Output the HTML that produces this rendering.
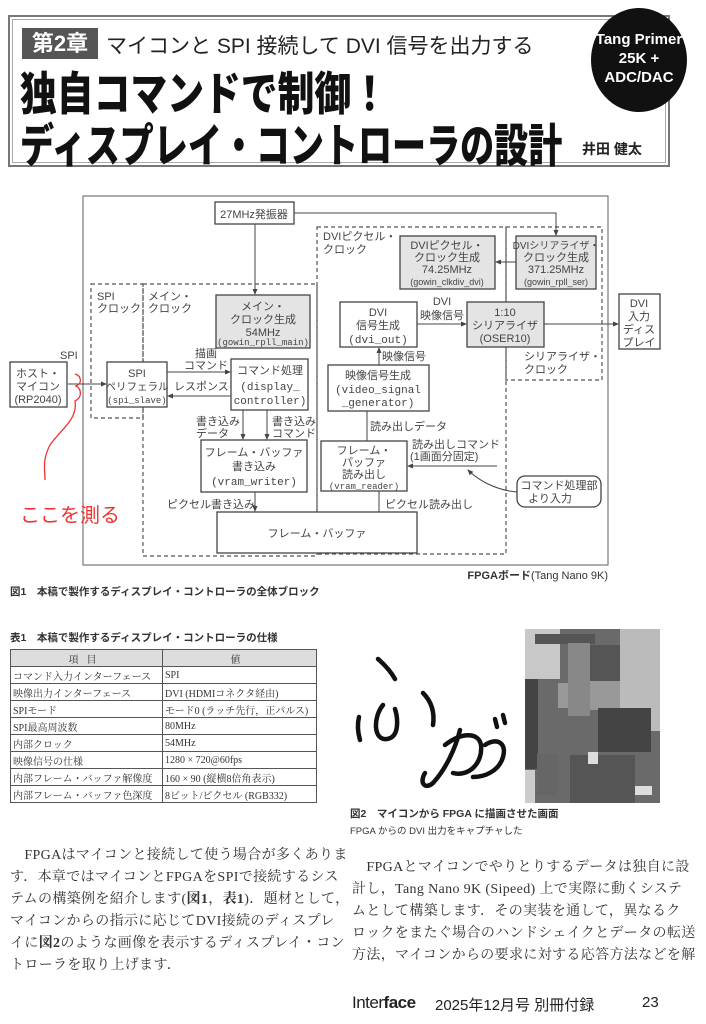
<!DOCTYPE html>
<html><head><meta charset="utf-8"><style>
*{margin:0;padding:0;box-sizing:border-box}
body{width:706px;height:1024px;background:#fff;position:relative;overflow:hidden;font-family:"Liberation Sans","Noto Sans CJK JP",sans-serif;color:#222}
.a{position:absolute;white-space:nowrap}
.ser{font-family:"Liberation Serif","Noto Serif CJK SC",serif}
.bt{font-size:14px;letter-spacing:0.35px;color:#333}
table{border-collapse:collapse;table-layout:fixed;position:absolute;left:10px;top:649px;width:307px;font-family:"Liberation Serif","Noto Serif CJK SC",serif;font-size:10px;color:#333}
td{border:1px solid #555;height:17px;padding:0 2px;white-space:nowrap;overflow:hidden}
th{border:1px solid #555;height:17px;background:#ddd;font-weight:normal;letter-spacing:8px}
.tt{font-size:46px;font-weight:900;color:#111;transform-origin:0 0}
</style></head><body>
<!-- header -->
<div class="a" style="left:8px;top:15px;width:662px;height:152px;border:2px solid #777;outline:1px solid #aaa;outline-offset:-5px"></div>
<div class="a" style="left:22px;top:28px;width:76px;height:31px;background:#555;color:#fff;font-size:22px;font-weight:bold;line-height:31px;text-align:center">第2章</div>
<div class="a" style="left:106px;top:30px;font-size:21px;color:#222">マイコンと SPI 接続して DVI 信号を出力する</div>
<div class="a tt" style="left:20px;top:58px;transform:scaleX(0.8)">独自コマンドで制御！</div>
<div class="a tt" style="left:20px;top:110px;transform:scaleX(0.74)">ディスプレイ・コントローラの設計</div>
<div class="a" style="left:582px;top:139px;font-size:14px;font-weight:bold">井田 健太</div>
<div class="a" style="left:591px;top:8px;width:96px;height:104px;border-radius:50%;background:#111;color:#fff;font-size:15px;font-weight:bold;text-align:center;line-height:19px;padding-top:22px">Tang Primer<br>25K +<br>ADC/DAC</div>

<!-- diagram -->
<svg class="a" style="left:0;top:0" width="706" height="600" font-family="Liberation Sans,Noto Sans CJK JP,sans-serif" font-size="11" fill="#444">
<defs><marker id="ar" markerWidth="6" markerHeight="6" refX="5" refY="3" orient="auto"><path d="M0,0.5 L6,3 L0,5.5z" fill="#444"/></marker></defs>
<g fill="none" stroke="#555" stroke-width="1.2">
<rect x="83" y="196" width="525" height="369" stroke="#777"/>
<g stroke-dasharray="4,3">
<rect x="91" y="284" width="52" height="134"/>
<rect x="143" y="284" width="174" height="272"/>
<rect x="317" y="227" width="189" height="327"/>
<rect x="506" y="227" width="96" height="153"/>
</g>
</g>
<g stroke="#444" stroke-width="1.3" fill="#fff">
<rect x="215" y="202" width="79" height="22"/>
<rect x="10" y="362" width="57" height="45"/>
<rect x="107" y="362" width="60" height="45"/>
<rect x="231" y="359" width="77" height="51"/>
<rect x="201" y="440" width="106" height="52"/>
<rect x="217" y="512" width="200" height="41"/>
<rect x="340" y="302" width="77" height="45"/>
<rect x="328" y="365" width="101" height="46"/>
<rect x="321" y="441" width="86" height="50"/>
<rect x="619" y="294" width="41" height="55"/>
<rect x="517" y="476" width="84" height="31" rx="8"/>
<g fill="#e4e4e4">
<rect x="216" y="295" width="94" height="53"/>
<rect x="400" y="236" width="95" height="53"/>
<rect x="516" y="236" width="80" height="53"/>
<rect x="467" y="302" width="77" height="45"/>
</g>
</g>
<g stroke="#444" stroke-width="1" fill="none" marker-end="url(#ar)">
<path d="M294,213 H556 V235"/>
<path d="M255,224 V294"/>
<path d="M516,262 H496"/>
<path d="M417,324 H466"/>
<path d="M544,324 H618"/>
<path d="M379,365 V348"/>
<path d="M497,466 H408"/>
<path d="M517,492 C495,490 478,480 468,470"/>
<path d="M167,372 H230"/>
<path d="M231,396 H168"/>
<path d="M243,410 V439"/>
<path d="M267,410 V439"/>
<path d="M255,492 V511"/>
<path d="M68,384 H106"/>
</g>
<g stroke="#444" stroke-width="1" fill="none">
<path d="M367,441 V411"/><path d="M379,512 V491"/>
</g>
<g text-anchor="middle">
<text x="254" y="218">27MHz発振器</text>
<text x="38" y="377">ホスト・</text><text x="38" y="390">マイコン</text><text x="38" y="403">(RP2040)</text>
<text x="137" y="377">SPI</text><text x="137" y="390" font-size="10.5">ペリフェラル</text><text x="137" y="403" font-size="9" font-family="Liberation Mono,monospace">(spi_slave)</text>
<text x="270" y="374">コマンド処理</text><text x="270" y="390" font-family="Liberation Mono,monospace">(display_</text><text x="270" y="404" font-family="Liberation Mono,monospace">controller)</text>
<text x="254" y="456">フレーム・バッファ</text><text x="254" y="470">書き込み</text><text x="254" y="485" font-family="Liberation Mono,monospace">(vram_writer)</text>
<text x="317" y="537">フレーム・バッファ</text>
<text x="263" y="310">メイン・</text><text x="263" y="323">クロック生成</text><text x="263" y="336">54MHz</text><text x="263" y="345" font-size="9" font-family="Liberation Mono,monospace">(gowin_rpll_main)</text>
<text x="447" y="249">DVIピクセル・</text><text x="447" y="261">クロック生成</text><text x="447" y="273">74.25MHz</text><text x="447" y="285" font-size="9">(gowin_clkdiv_dvi)</text>
<text x="556" y="249" font-size="10">DVIシリアライザ・</text><text x="556" y="261">クロック生成</text><text x="556" y="273">371.25MHz</text><text x="556" y="285" font-size="9">(gowin_rpll_ser)</text>
<text x="378" y="316">DVI</text><text x="378" y="329">信号生成</text><text x="378" y="343" font-family="Liberation Mono,monospace">(dvi_out)</text>
<text x="505" y="316">1:10</text><text x="505" y="329">シリアライザ</text><text x="505" y="342">(OSER10)</text>
<text x="639" y="307">DVI</text><text x="639" y="320">入力</text><text x="639" y="333">ディス</text><text x="639" y="346">プレイ</text>
<text x="378" y="379">映像信号生成</text><text x="378" y="393" font-family="Liberation Mono,monospace">(video_signal</text><text x="378" y="406" font-family="Liberation Mono,monospace">_generator)</text>
<text x="364" y="454">フレーム・</text><text x="364" y="466">パッファ</text><text x="364" y="478">読み出し</text><text x="364" y="489" font-size="9" font-family="Liberation Mono,monospace">(vram_reader)</text>
<text x="559" y="489">コマンド処理部</text><text x="550" y="502">より入力</text>
<text x="442" y="305">DVI</text><text x="442" y="319">映像信号</text>
<text x="206" y="357">描画</text><text x="206" y="369">コマンド</text>
</g>
<text x="60" y="359">SPI</text>
<text x="97" y="300">SPI</text><text x="97" y="312">クロック</text>
<text x="148" y="300">メイン・</text><text x="148" y="312">クロック</text>
<text x="323" y="240">DVIピクセル・</text><text x="323" y="253">クロック</text>
<text x="524" y="360">シリアライザ・</text><text x="524" y="373">クロック</text>
<text x="174" y="390">レスポンス</text>
<text x="196" y="425">書き込み</text><text x="196" y="437">データ</text>
<text x="272" y="425">書き込み</text><text x="272" y="437">コマンド</text>
<text x="382" y="360">映像信号</text>
<text x="370" y="430">読み出しデータ</text>
<text x="412" y="448">読み出しコマンド</text><text x="410" y="460">(1画面分固定)</text>
<text x="167" y="508">ピクセル書き込み</text>
<text x="385" y="508">ピクセル読み出し</text>
<path d="M75,374 C82,376 82,384 76,386 C82,389 82,398 75,401 C78,420 60,430 50,445 C42,460 45,470 45,480" stroke="#e33" stroke-width="1.3" fill="none"/>
<text x="20" y="522" font-size="20" fill="#e33">ここを測る</text>
<text x="608" y="579" text-anchor="end" font-size="11" fill="#333"><tspan font-weight="bold">FPGAボード</tspan>(Tang Nano 9K)</text>
</svg>

<div class="a" style="left:10px;top:584px;font-size:10.5px;font-weight:bold;color:#333">図1　本稿で製作するディスプレイ・コントローラの全体ブロック</div>
<div class="a" style="left:10px;top:630px;font-size:10.5px;font-weight:bold;color:#333">表1　本稿で製作するディスプレイ・コントローラの仕様</div>
<table>
<tr><th style="width:152px">項目</th><th>値</th></tr>
<tr><td>コマンド入力インターフェース</td><td>SPI</td></tr>
<tr><td>映像出力インターフェース</td><td>DVI (HDMIコネクタ経由)</td></tr>
<tr><td>SPIモード</td><td>モード0 (ラッチ先行，正パルス)</td></tr>
<tr><td>SPI最高周波数</td><td>80MHz</td></tr>
<tr><td>内部クロック</td><td>54MHz</td></tr>
<tr><td>映像信号の仕様</td><td>1280 × 720@60fps</td></tr>
<tr><td>内部フレーム・バッファ解像度</td><td>160 × 90 (縦横8倍角表示)</td></tr>
<tr><td>内部フレーム・バッファ色深度</td><td>8ビット/ピクセル (RGB332)</td></tr>
</table>

<!-- fig2 -->
<svg class="a" style="left:345px;top:645px" width="170" height="150">
<g fill="none" stroke="#111" stroke-width="4.5" stroke-linecap="round" stroke-linejoin="round">
<path d="M33,14 C40,20 46,27 50,34"/>
<path d="M14,72 C12,80 13,88 15,95"/>
<path d="M38,60 C28,72 28,96 42,94 C56,92 52,70 50,64"/>
<path d="M78,48 C86,56 90,66 88,80"/>
<path d="M100,100 C118,86 134,88 136,100 C138,118 124,132 108,128"/>
<path d="M115,85 C110,105 100,125 88,138 C80,145 74,138 80,128"/>
<path d="M140,100 C152,92 162,98 158,112 C154,126 140,132 128,132"/>
<path d="M150,74 L152,82 M158,70 L160,78"/>
</g>
</svg>
<svg class="a" style="left:525px;top:629px" width="135" height="174">
<rect width="135" height="174" fill="#6a6a6a"/>
<rect x="0" y="0" width="35" height="50" fill="#c8c8c8"/>
<rect x="10" y="5" width="60" height="10" fill="#555"/>
<rect x="95" y="0" width="40" height="102" fill="#bbb"/>
<rect x="0" y="50" width="13" height="90" fill="#444"/>
<rect x="43" y="14" width="22" height="73" fill="#888"/>
<rect x="65" y="16" width="30" height="36" fill="#555"/>
<rect x="33" y="54" width="10" height="25" fill="#999"/>
<rect x="65" y="52" width="30" height="29" fill="#999"/>
<rect x="73" y="79" width="53" height="44" fill="#444"/>
<rect x="12" y="125" width="21" height="41" fill="#666"/>
<rect x="45" y="126" width="65" height="48" fill="#555"/>
<rect x="110" y="157" width="17" height="9" fill="#ddd"/>
<rect x="0" y="141" width="10" height="33" fill="#ccc"/>
<rect x="63" y="123" width="10" height="12" fill="#ddd"/>
</svg>
<div class="a" style="left:350px;top:806px;font-size:10.5px;font-weight:bold;color:#333">図2　マイコンから FPGA に描画させた画面</div>
<div class="a" style="left:350px;top:823px;font-size:9.5px;color:#333">FPGA からの DVI 出力をキャプチャした</div>

<!-- body text -->
<div class="a ser bt" style="left:10px;top:845px;line-height:22px">
<div>　FPGAはマイコンと接続して使う場合が多くありま</div>
<div>す．本章ではマイコンとFPGAをSPIで接続するシス</div>
<div>テムの構築例を紹介します(<b>図1</b>，<b>表1</b>)．題材として，</div>
<div>マイコンからの指示に応じてDVI接続のディスプレ</div>
<div>イに<b>図2</b>のような画像を表示するディスプレイ・コン</div>
<div>トローラを取り上げます．</div>
</div>
<div class="a ser bt" style="left:352px;top:857px;line-height:22px">
<div>　FPGAとマイコンでやりとりするデータは独自に設</div>
<div>計し，Tang Nano 9K (Sipeed) 上で実際に動くシステ</div>
<div>ムとして構築します．その実装を通して，異なるク</div>
<div>ロックをまたぐ場合のハンドシェイクとデータの転送</div>
<div>方法，マイコンからの要求に対する応答方法などを解</div>
</div>
<div class="a" style="left:352px;top:993px;font-size:17px;color:#222;letter-spacing:-0.5px">Inter<b>face</b></div>
<div class="a" style="left:435px;top:994px;font-size:15px;color:#222">2025年12月号 別冊付録</div>
<div class="a" style="left:642px;top:994px;font-size:15px;color:#222">23</div>
</body></html>
